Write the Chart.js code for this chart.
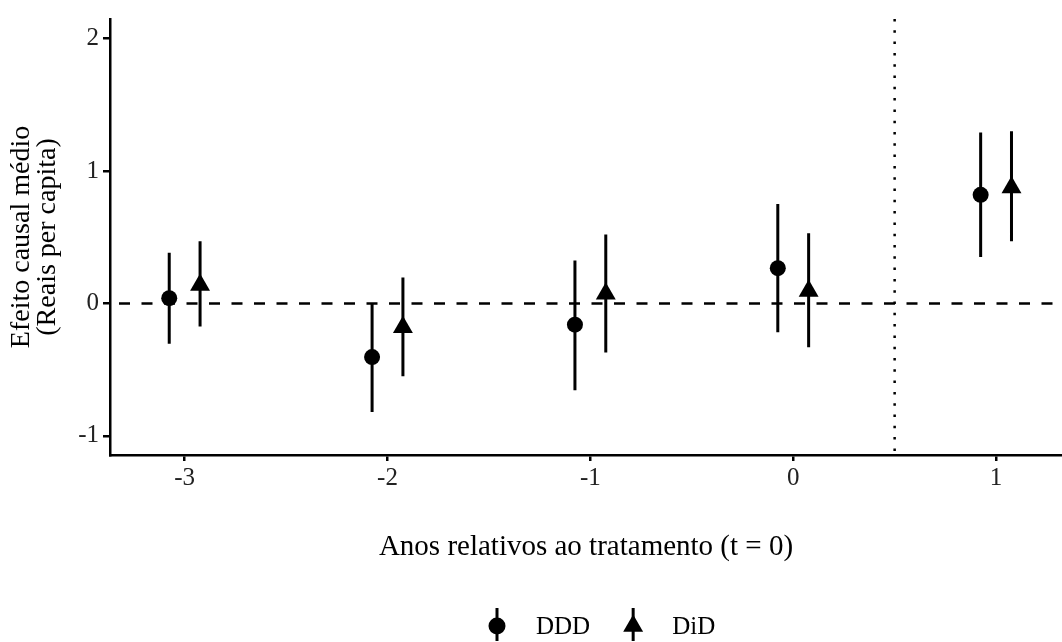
<!DOCTYPE html>
<html>
<head>
<meta charset="utf-8">
<script src="https://cdn.jsdelivr.net/npm/chart.js@4"></script>
<style>
  html, body { margin: 0; padding: 0; background: #fff; }
  #wrap { width: 1062px; height: 642px; position: relative; }
</style>
</head>
<body>
<div id="wrap"><canvas id="chart"></canvas></div>
<script>
// anos relativos ao tratamento
const years = [-3, -2, -1, 0, 1];
// DDD: estimativa e intervalo
const dddEst = [0.04, -0.405, -0.16, 0.266, 0.82];
const dddLow = [-0.305, -0.82, -0.656, -0.218, 0.35];
const dddHigh = [0.383, 0.003, 0.325, 0.75, 1.29];
// DiD: estimativa e intervalo
const didEst = [0.14, -0.18, 0.074, 0.094, 0.876];
const didLow = [-0.175, -0.55, -0.37, -0.33, 0.47];
const didHigh = [0.47, 0.195, 0.52, 0.53, 1.30];
const yTicks = [-1, 0, 1, 2];
const xTicks = [-3, -2, -1, 0, 1];
const seriesNames = ["DDD", "DiD"];
const dodge = 0.076;
const cutoff = 0.5;

const FONT = "'Liberation Serif', 'DejaVu Serif', serif";
const TITLE_SIZE = 28;
const TICK_SIZE = 25;
const LEGEND_SIZE = 25;

function points(est, shift) {
    return years.map((yr, i) => ({ x: yr + shift, y: est[i] }));
}

// segmentos verticais separados por null
function ranges(low, high, shift) {
    const out = [];
    years.forEach((yr, i) => {
        out.push({ x: yr + shift, y: low[i] });
        out.push({ x: yr + shift, y: high[i] });
        out.push({ x: yr + shift, y: null });
    });
    return out;
}

const refLines = {
    id: "refLines",
    beforeDatasetsDraw(chart) {
        const { ctx, chartArea, scales } = chart;
        const y0 = scales.y.getPixelForValue(0);
        const xc = scales.x.getPixelForValue(cutoff);
        ctx.save();
        ctx.strokeStyle = "#000";
        ctx.lineWidth = 2.5;
        ctx.setLineDash([11, 11.5]);
        ctx.lineDashOffset = 13.5;
        ctx.beginPath();
        ctx.moveTo(chartArea.left, y0);
        ctx.lineTo(chartArea.right, y0);
        ctx.stroke();
        ctx.setLineDash([2.5, 8.8]);
        ctx.lineDashOffset = 0;
        ctx.beginPath();
        ctx.moveTo(xc, chartArea.top);
        ctx.lineTo(xc, chartArea.bottom);
        ctx.stroke();
        ctx.restore();
    }
};

// legenda no estilo pointrange
const rangeLegend = {
    id: "rangeLegend",
    afterDraw(chart) {
        const { ctx } = chart;
        const cy = 626;
        ctx.save();
        ctx.font = LEGEND_SIZE + "px " + FONT;
        ctx.textBaseline = "middle";
        ctx.fillStyle = "#000";
        ctx.strokeStyle = "#000";
        ctx.lineWidth = 3;
        let x = 497;
        seriesNames.forEach((name, i) => {
            ctx.beginPath();
            ctx.moveTo(x, cy - 18);
            ctx.lineTo(x, cy + 15);
            ctx.stroke();
            ctx.beginPath();
            if (i === 0) {
                ctx.arc(x, cy, 8.5, 0, Math.PI * 2);
            } else {
                const r = 11.5;
                ctx.moveTo(x, cy - r);
                ctx.lineTo(x + r * 0.866, cy + r / 2);
                ctx.lineTo(x - r * 0.866, cy + r / 2);
                ctx.closePath();
            }
            ctx.fill();
            const tx = x + 39;
            ctx.fillText(name, tx, cy + 1);
            x = tx + ctx.measureText(name).width + 43;
        });
        ctx.restore();
    }
};

new Chart(document.getElementById("chart"), {
    type: "scatter",
    data: {
        datasets: [
            {
                label: "DDD range",
                data: ranges(dddLow, dddHigh, -dodge),
                showLine: true,
                spanGaps: false,
                borderColor: "#000",
                borderWidth: 3,
                pointRadius: 0
            },
            {
                label: "DiD range",
                data: ranges(didLow, didHigh, dodge),
                showLine: true,
                spanGaps: false,
                borderColor: "#000",
                borderWidth: 3,
                pointRadius: 0
            },
            {
                label: "DDD",
                data: points(dddEst, -dodge),
                pointStyle: "circle",
                pointRadius: 8,
                backgroundColor: "#000",
                borderWidth: 0
            },
            {
                label: "DiD",
                data: points(didEst, dodge),
                pointStyle: "triangle",
                pointRadius: 11.5,
                backgroundColor: "#000",
                borderWidth: 0
            }
        ]
    },
    options: {
        responsive: true,
        maintainAspectRatio: false,
        animation: false,
        layout: { autoPadding: false, padding: { top: 17, right: 0, bottom: 72, left: 0 } },
        plugins: {
            legend: { display: false },
            tooltip: { enabled: false }
        },
        scales: {
            x: {
                type: "linear",
                min: -3.368,
                max: 1.325,
                afterBuildTicks: (scale) => { scale.ticks = xTicks.map(v => ({ value: v })); },
                afterFit: (scale) => { scale.height = 115; },
                grid: { drawOnChartArea: false, drawTicks: true, tickLength: 6, color: "#000", lineWidth: 2.5 },
                border: { display: true, color: "#000", width: 2.5 },
                ticks: { color: "#222", padding: 2, font: { family: FONT, size: TICK_SIZE } },
                title: {
                    display: true,
                    text: "Anos relativos ao tratamento (t = 0)",
                    color: "#000",
                    font: { family: FONT, size: 29 },
                    padding: { top: 0, bottom: 5 }
                }
            },
            y: {
                min: -1.144,
                max: 2.147,
                afterBuildTicks: (scale) => { scale.ticks = yTicks.map(v => ({ value: v })); },
                afterFit: (scale) => { scale.width = 110; },
                grid: { drawOnChartArea: false, drawTicks: true, tickLength: 7, color: "#000", lineWidth: 2.5 },
                border: { display: true, color: "#000", width: 2.5 },
                ticks: { color: "#222", padding: 4, font: { family: FONT, size: TICK_SIZE } },
                title: {
                    display: true,
                    text: ["Efeito causal médio", "(Reais per capita)"],
                    color: "#000",
                    font: { family: FONT, size: TITLE_SIZE, lineHeight: "26px" },
                    padding: { top: 9, bottom: 0 }
                }
            }
        }
    },
    plugins: [refLines, rangeLegend]
});
</script>
</body>
</html>
